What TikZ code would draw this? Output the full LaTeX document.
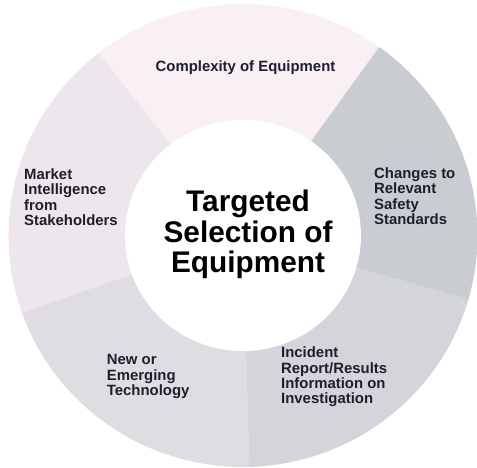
\documentclass[tikz,border=0pt]{standalone}
\usepackage{fontspec}
\setmainfont{Liberation Sans}
\usetikzlibrary{shapes.geometric}
\definecolor{segTop}{RGB}{248,240,243}
\definecolor{segLeft}{RGB}{237,230,236}
\definecolor{segBL}{RGB}{223,220,226}
\definecolor{segBR}{RGB}{212,213,218}
\definecolor{segRight}{RGB}{201,205,209}
\definecolor{labelc}{RGB}{30,30,46}
\begin{document}
\begin{tikzpicture}[x=1pt,y=1pt,
  lbl/.style={font=\fontsize{14.9}{15.3}\selectfont\bfseries, text=labelc, inner sep=0pt},
  ttl/.style={font=\fontsize{29.8}{29}\selectfont\bfseries, text=black, inner sep=0pt},
  hubstyle/.style={ellipse, fill=white, draw=none, inner sep=0pt, minimum width=236pt, minimum height=231pt}]
\useasboundingbox (0,0) rectangle (477,468);
\coordinate (c) at (243,232.5);
\def\RX{234.5}
\def\RY{231.5}
\fill[segTop]   (c) -- ++(54.5:\RX pt and \RY pt)  arc[start angle=54.5, end angle=128,   x radius=\RX, y radius=\RY] -- cycle;
\fill[segLeft]  (c) -- ++(128:\RX pt and \RY pt)   arc[start angle=128,  end angle=199.5, x radius=\RX, y radius=\RY] -- cycle;
\fill[segBL]    (c) -- ++(199.5:\RX pt and \RY pt) arc[start angle=199.5,end angle=271.5, x radius=\RX, y radius=\RY] -- cycle;
\fill[segBR]    (c) -- ++(271.5:\RX pt and \RY pt) arc[start angle=271.5,end angle=344,   x radius=\RX, y radius=\RY] -- cycle;
\fill[segRight] (c) -- ++(344:\RX pt and \RY pt)   arc[start angle=344,  end angle=414.5, x radius=\RX, y radius=\RY] -- cycle;
\node[hubstyle] (hub) at (c) {};
\node[ttl, anchor=base] (title) at (248,256) {\begin{tabular}[t]{@{}c@{}}Targeted\\Selection of\\Equipment\end{tabular}};
\node[lbl, anchor=base] (complexity) at (245.5,396) {Complexity of Equipment};
\node[lbl, anchor=base west] (market) at (24,288.5) {\begin{tabular}[t]{@{}l@{}}Market\\Intelligence\\from\\Stakeholders\end{tabular}};
\node[lbl, anchor=base west] (changes) at (374,289.5) {\begin{tabular}[t]{@{}l@{}}Changes to\\Relevant\\Safety\\Standards\end{tabular}};
\node[lbl, anchor=base west] (incident) at (281,110.3) {\begin{tabular}[t]{@{}l@{}}Incident\\Report/Results\\Information on\\Investigation\end{tabular}};
\node[lbl, anchor=base west] (newtech) at (106.7,103) {\begin{tabular}[t]{@{}l@{}}New or\\Emerging\\Technology\end{tabular}};
\end{tikzpicture}
\end{document}
